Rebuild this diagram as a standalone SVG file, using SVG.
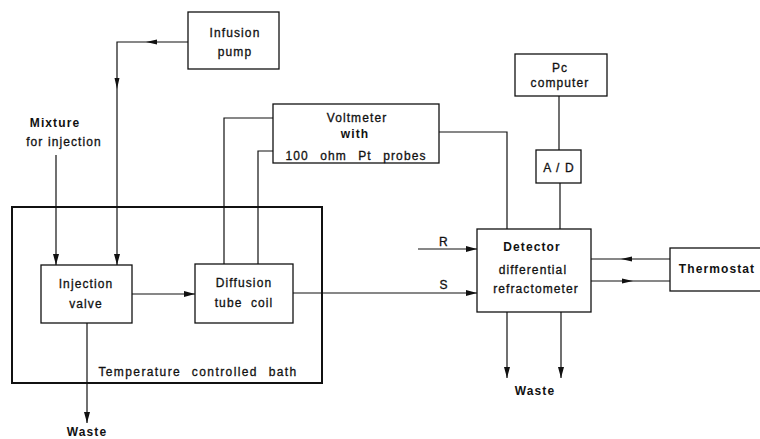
<svg xmlns="http://www.w3.org/2000/svg" width="760" height="439" viewBox="0 0 760 439">
<style>
.box{fill:none;stroke:#111;stroke-width:1.3}
.bath{fill:none;stroke:#111;stroke-width:2}
.ln{fill:none;stroke:#111;stroke-width:1.2}
.ah{fill:#111;stroke:none}
text{font-family:"Liberation Sans",Arial,sans-serif;font-size:12px;fill:#111;stroke:#111;stroke-width:0.3;letter-spacing:1.1px;text-anchor:middle}
.b{font-weight:bold;stroke-width:0}
</style>
<defs>
<marker id="arr" markerUnits="userSpaceOnUse" markerWidth="12" markerHeight="8" viewBox="0 0 12 8" refX="11" refY="4" orient="auto">
<path d="M0,1 L11,4 L0,7 Z" fill="#111"/>
</marker>
</defs>
<rect width="760" height="439" fill="#fff"/>

<g id="bath">
<rect class="bath" x="12" y="207" width="310" height="176"/>
<text x="198" y="376" style="letter-spacing:1.4px;word-spacing:6px">Temperature controlled bath</text>
</g>

<g id="infusion-pump">
<rect class="box" x="188" y="12" width="91" height="57"/>
<text x="235" y="37">Infusion</text>
<text x="235" y="56">pump</text>
</g>

<g id="mixture">
<text class="b" x="55" y="127">Mixture</text>
<text x="64" y="146">for injection</text>
</g>

<g id="voltmeter">
<rect class="box" x="273" y="104" width="166" height="59"/>
<text x="357" y="122">Voltmeter</text>
<text class="b" x="355" y="138">with</text>
<text x="356" y="160" style="word-spacing:7px">100 ohm Pt probes</text>
</g>

<g id="pc-computer">
<rect class="box" x="515" y="54" width="92" height="42"/>
<text x="560" y="72">Pc</text>
<text x="560" y="87">computer</text>
</g>

<g id="ad">
<rect class="box" x="536" y="150" width="45" height="33"/>
<text x="559" y="172">A / D</text>
</g>

<g id="injection-valve">
<rect class="box" x="41" y="265" width="91" height="58"/>
<text x="86" y="288">Injection</text>
<text x="86" y="308">valve</text>
</g>

<g id="diffusion-coil">
<rect class="box" x="195" y="264" width="98" height="59"/>
<text x="244" y="287">Diffusion</text>
<text x="244" y="307" style="word-spacing:4px">tube coil</text>
</g>

<g id="detector">
<rect class="box" x="477" y="229" width="114" height="83"/>
<text class="b" x="532" y="251">Detector</text>
<text x="533" y="274">differential</text>
<text x="536" y="293">refractometer</text>
</g>

<g id="thermostat">
<rect class="box" x="670" y="248" width="92" height="43"/>
<text class="b" x="717" y="273">Thermostat</text>
</g>

<g id="labels">
<text x="444" y="246">R</text>
<text x="444" y="289">S</text>
<text class="b" x="87" y="436">Waste</text>
<text class="b" x="535" y="395">Waste</text>
</g>

<g id="connectors">
<polyline class="ln" points="188,42 117,42 117,265" marker-end="url(#arr)"/>
<polygon class="ah" points="146,42 157,39.5 157,44.5"/>
<polygon class="ah" points="117,89 114.5,78 119.5,78"/>
<line class="ln" x1="56" y1="155" x2="56" y2="265" marker-end="url(#arr)"/>
<line class="ln" x1="132" y1="294" x2="195" y2="294" marker-end="url(#arr)"/>
<line class="ln" x1="87" y1="323" x2="87" y2="423" marker-end="url(#arr)"/>
<polyline class="ln" points="273,118 224,118 224,264"/>
<polyline class="ln" points="273,151 258,151 258,264"/>
<polyline class="ln" points="439,132 507,132 507,229"/>
<line class="ln" x1="559" y1="96" x2="559" y2="150"/>
<line class="ln" x1="560" y1="183" x2="560" y2="229"/>
<line class="ln" x1="293" y1="293" x2="477" y2="293" marker-end="url(#arr)"/>
<line class="ln" x1="418" y1="249" x2="477" y2="249" marker-end="url(#arr)"/>
<line class="ln" x1="670" y1="259" x2="591" y2="259"/>
<polygon class="ah" points="621,259 632,256.5 632,261.5"/>
<line class="ln" x1="591" y1="281" x2="670" y2="281"/>
<polygon class="ah" points="633,281 622,278.5 622,283.5"/>
<line class="ln" x1="507" y1="312" x2="507" y2="378" marker-end="url(#arr)"/>
<line class="ln" x1="561" y1="312" x2="561" y2="378" marker-end="url(#arr)"/>
</g>
</svg>
